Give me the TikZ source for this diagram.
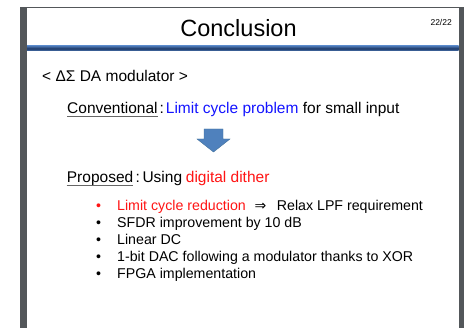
\documentclass[tikz,border=0pt]{standalone}
\usepackage{fontspec}
\setmainfont{Liberation Sans}
\newfontfamily\symfont{DejaVu Sans}
\definecolor{framegray}{HTML}{53575A}
\definecolor{barnavy}{HTML}{1F3A68}
\definecolor{barblue}{HTML}{4A74B0}
\definecolor{arrowfill}{HTML}{4F81BD}
\definecolor{arrowedge}{HTML}{41719C}
\definecolor{txtblue}{RGB}{20,20,255}
\definecolor{txtred}{RGB}{255,20,20}
\definecolor{ulgray}{HTML}{666666}
\tikzset{
  txt/.style={inner sep=0pt, anchor=base west},
  head/.style={txt, font=\fontsize{15.5}{18}\selectfont},
  item/.style={txt, font=\fontsize{14.2}{17}\selectfont},
  ul/.style={draw=ulgray, line width=1.1pt}
}
\begin{document}
\begin{tikzpicture}[x=1pt,y=1pt]
\useasboundingbox (0,0) rectangle (464,328);
\fill[white] (0,0) rectangle (464,328);
% slide frame
\fill[framegray] (20,0) rectangle (27,321);
\fill[framegray] (458.7,0) rectangle (464,321);
\fill[framegray] (20,320) rectangle (464,321);
% title bar rule
\shade[top color=barblue, bottom color=barblue, middle color=barnavy] (27,277) rectangle (458.7,282);
% title and page number
\node[inner sep=0pt, anchor=base, font=\fontsize{23.5}{28}\selectfont] (title) at (238.5,291) {Conclusion};
\node[inner sep=0pt, anchor=base east, font=\fontsize{8.5}{10}\selectfont] (page) at (452,302) {22/22};
% section heading
\node[head] (sec) at (42,246) {< ΔΣ DA modulator >};
% conventional line
\node[head] (conv) at (67,214.5) {Conventional};
\node[head] (convc) at (159.5,214.5) {:};
\node[head, text=txtblue] (prob) at (165.7,214.5) {Limit cycle problem};
\node[head] (probr) at (302.7,214.5) {for small input};
\draw[ul] ([yshift=-2.6pt]conv.base west) -- ([yshift=-2.6pt]conv.base east);
% block arrow
\filldraw[fill=arrowfill, draw=arrowedge, line width=0.4pt]
  (204,199) -- (223,199) -- (223,189) -- (230,189) -- (213.5,176)
  -- (197,189) -- (204,189) -- cycle;
% proposed line
\node[head] (prop) at (66.7,145) {Proposed};
\node[head] (propc) at (135.5,145) {:};
\node[head] (using) at (142.3,145) {Using};
\node[head, text=txtred] (dither) at (185.7,145) {digital dither};
\draw[ul] ([yshift=-2.6pt]prop.base west) -- ([yshift=-2.6pt]prop.base east);
% bullet list
\node[item, text=txtred] (b1) at (96,117.5) {•};
\node[item, text=txtred] (t1) at (117,117.5) {Limit cycle reduction};
\node[item, font=\symfont\fontsize{14}{16}\selectfont] (imp) at (254.5,117.5) {⇒};
\node[item] (t1b) at (276.7,117.5) {Relax LPF requirement};
\node[item] (b2) at (96,100.5) {•};
\node[item] (t2) at (117,100.5) {SFDR improvement by 10 dB};
\node[item] (b3) at (96,83) {•};
\node[item] (t3) at (117,83) {Linear DC};
\node[item] (b4) at (96,66) {•};
\node[item] (t4) at (117,66) {1-bit DAC following a modulator thanks to XOR};
\node[item] (b5) at (96,49) {•};
\node[item] (t5) at (117,49) {FPGA implementation};
\end{tikzpicture}
\end{document}
